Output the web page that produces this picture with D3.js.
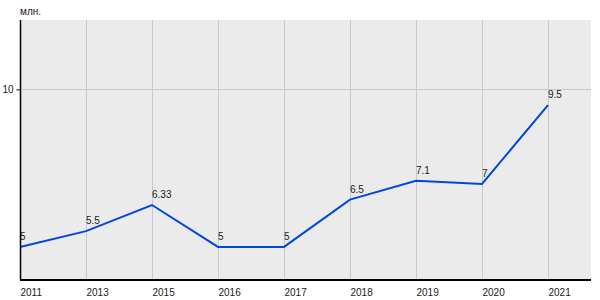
<!DOCTYPE html>
<html lang="ru">
<head>
  <meta charset="UTF-8">
  <title>млн.</title>
  <script src="https://d3js.org/d3.v7.min.js"></script>
  <style>
    body { margin: 0; background: #fff; }
    svg { font-family: "Liberation Sans", Arial, sans-serif; display: block; }
  </style>
</head>
<body>
  <svg id="chart"></svg>
  <script>
    // data
    const years = ["2011", "2013", "2015", "2016", "2017", "2018", "2019", "2020", "2021"];
    const values = [5, 5.5, 6.33, 5, 5, 6.5, 7.1, 7, 9.5];
    const labels = ["5", "5.5", "6.33", "5", "5", "6.5", "7.1", "7", "9.5"];
    const yTicks = [10];
    const unit = "млн.";

    const W = 600, H = 300;
    const plotL = 20, plotR = 591, plotT = 20, plotB = 280;

    const svg = d3.select("#chart").attr("width", W).attr("height", H);

    const x = d3.scalePoint().domain(years).range([plotL, 548]);
    const y = d3.scaleLinear().domain([3.95, 12.2]).range([plotB, plotT]);

    // plot background
    svg.append("rect")
      .attr("x", plotL).attr("y", plotT)
      .attr("width", plotR - plotL).attr("height", plotB - plotT)
      .attr("fill", "#ebebeb");

    // vertical grid
    svg.append("g")
      .selectAll("line")
      .data(years.slice(1))
      .join("line")
      .attr("x1", d => x(d) + 0.5).attr("x2", d => x(d) + 0.5)
      .attr("y1", plotT).attr("y2", plotB)
      .attr("stroke", "#c8c8c8");

    // horizontal grid
    svg.append("g")
      .selectAll("line")
      .data(yTicks)
      .join("line")
      .attr("x1", plotL).attr("x2", plotR)
      .attr("y1", d => Math.round(y(d)) + 0.5).attr("y2", d => Math.round(y(d)) + 0.5)
      .attr("stroke", "#c8c8c8");

    // line
    const line = d3.line()
      .x((d, i) => x(years[i]))
      .y(d => y(d));

    svg.append("path")
      .datum(values)
      .attr("d", line)
      .attr("fill", "none")
      .attr("stroke", "#0047e0")
      .attr("stroke-width", 2);

    // value labels
    svg.append("g")
      .selectAll("text")
      .data(values)
      .join("text")
      .attr("x", (d, i) => x(years[i]))
      .attr("y", d => y(d) - 7)
      .attr("font-size", 10)
      .attr("fill", "#222")
      .text((d, i) => labels[i]);

    // axes
    const yAxis = svg.append("g")
      .attr("transform", `translate(${plotL + 0.5},0)`)
      .call(d3.axisLeft(y).tickValues(yTicks).tickSize(4).tickSizeOuter(0).tickPadding(3));
    yAxis.select(".domain").attr("d", `M0,${plotT}V${plotB}`).attr("stroke", "#000").attr("stroke-width", 1.5);
    yAxis.selectAll("text").attr("font-size", 10).attr("fill", "#222").attr("font-family", "Liberation Sans, Arial, sans-serif");

    const xAxis = svg.append("g")
      .attr("transform", `translate(0,${plotB})`)
      .call(d3.axisBottom(x).tickSize(0).tickPadding(9));
    xAxis.select(".domain").attr("d", `M${plotL},0H${plotR}`).attr("stroke", "#000").attr("stroke-width", 2);
    xAxis.selectAll("text")
      .attr("text-anchor", "start")
      .attr("font-size", 10)
      .attr("fill", "#222")
      .attr("font-family", "Liberation Sans, Arial, sans-serif");

    // unit label
    svg.append("text")
      .attr("x", plotL).attr("y", 15)
      .attr("font-size", 10)
      .attr("fill", "#222")
      .text(unit);
  </script>
</body>
</html>
